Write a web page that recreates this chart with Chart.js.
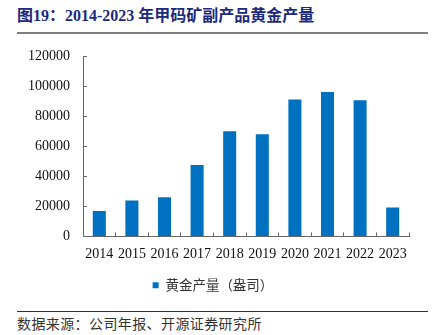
<!DOCTYPE html>
<html>
<head>
<meta charset="utf-8">
<script src="https://cdn.jsdelivr.net/npm/chart.js@4"></script>
<style>
  body { margin: 0; background: #fff; width: 436px; height: 335px; overflow: hidden; position: relative; }
  #title {
    position: absolute; left: 17px; top: 0; width: 411px; height: 32px;
    border-bottom: 2px solid #7f7f7f;
    font: bold 16px "Liberation Serif", "Noto Sans CJK SC", serif;
    color: #1c2a7c; line-height: 32px; white-space: nowrap;
  }
  #box { position: absolute; left: 17px; top: 36px; width: 411px; height: 272px; }
  #source {
    position: absolute; left: 17px; top: 311px; width: 411px; height: 24px;
    border-top: 1px solid #333;
    font: 14px "Noto Sans CJK SC", sans-serif; color: #333;
    line-height: 22px; letter-spacing: 0.4px; white-space: nowrap;
  }
</style>
</head>
<body>
<div id="title">图19：2014-2023 年甲码矿副产品黄金产量</div>
<div id="box"><canvas id="gold"></canvas></div>
<div id="source">数据来源：公司年报、开源证券研究所</div>
<script>
const years = ["2014", "2015", "2016", "2017", "2018", "2019", "2020", "2021", "2022", "2023"];
const goldOz = [17000, 23900, 26100, 47600, 70000, 68000, 91000, 96100, 90600, 19300];
const seriesName = "黄金产量（盎司）";

const axisColor = "#666";

new Chart(document.getElementById("gold"), {
  type: 'bar',
  data: {
    labels: years,
    datasets: [{
        data: goldOz,
        label: seriesName,
        backgroundColor: "#0070C0",
        categoryPercentage: 1,
        barPercentage: 0.4
      }
    ]
  },
  options: {
    responsive: true,
    maintainAspectRatio: false,
    animation: false,
    layout: { padding: { top: 20, right: 19, left: 0, bottom: 6 } },
    plugins: {
      tooltip: { enabled: false },
      legend: {
        position: 'bottom',
        labels: {
          boxWidth: 6,
          boxHeight: 6,
          padding: 10,
          color: "#333",
          font: { family: "Noto Sans CJK SC", size: 13.5 }
        }
      }
    },
    scales: {
      x: {
        grid: { drawOnChartArea: false, tickLength: -4, color: axisColor },
        border: { color: axisColor },
        ticks: { padding: 13, color: "#111", maxRotation: 0, font: { family: "Liberation Serif", size: 14 } },
        afterFit: function (scale) { scale.height = 32; }
      },
      y: {
        min: 0,
        max: 120000,
        grid: { drawOnChartArea: false, tickLength: -4, color: axisColor },
        border: { color: axisColor },
        ticks: {
          stepSize: 20000,
          padding: 17,
          color: "#111",
          font: { family: "Liberation Serif", size: 14 },
          callback: function (v) { return String(v); }
        },
        // tick padding gets added to the top padding, keep it small
        afterFit: function (scale) { scale.width = 66; scale.paddingTop = 8; scale.paddingBottom = 8; }
      }
    }
  }
});
</script>
</body>
</html>
